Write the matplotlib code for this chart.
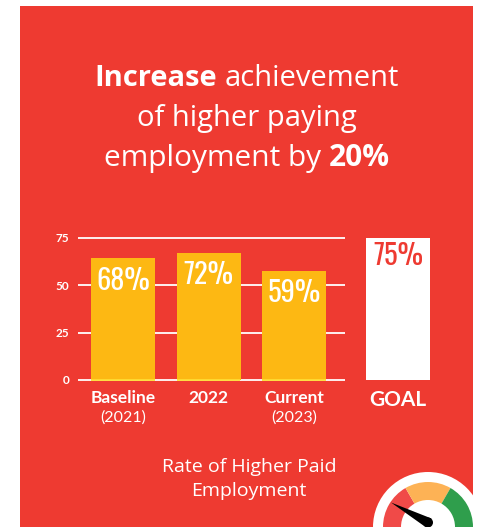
import numpy as np
import matplotlib
matplotlib.use("Agg")
import matplotlib.pyplot as plt
from matplotlib.patches import Rectangle, Wedge, Polygon, Circle

categories = ["Baseline", "2022", "Current"]
sub_labels = ["(2021)", "", "(2023)"]
bar_values = [64, 67, 57.5]
bar_labels = ["68%", "72%", "59%"]
goal_value = 75
goal_label = "75%"
yticks = [0, 25, 50, 75]

red = "#EE3A31"
yellow = "#FDB813"
W, H = 478, 527

plt.rcParams["font.family"] = ["Open Sans", "DejaVu Sans"]

fig = plt.figure(figsize=(W / 100, H / 100), dpi=100, facecolor="white")

# page overlay in pixel coords, y flipped by hand
bg = fig.add_axes([0, 0, 1, 1], zorder=0)
bg.set_xlim(0, W)
bg.set_ylim(H, 0)
bg.axis("off")
bg.add_patch(Rectangle((20, 6), 453, H - 6, color=red, lw=0))


def mixed_line(y, parts, size=21):
    # centred line made of regular and bold pieces
    r = fig.canvas.get_renderer()
    items = [bg.text(0, y, s, color="white", fontsize=size, fontweight=w, va="baseline", ha="left")
             for s, w in parts]
    widths = [t.get_window_extent(r).width for t in items]
    space = size * 100 / 72 * 0.26
    total = sum(widths) + space * (len(items) - 1)
    x = 247 - total / 2
    for t, wd in zip(items, widths):
        t.set_x(x)
        x += wd + space


mixed_line(86, [("Increase", "bold"), ("achievement", "normal")])
mixed_line(126, [("of higher paying", "normal")])
mixed_line(166, [("employment by", "normal"), ("20%", "bold")], size=21.5)

# bar chart, axes spans 0..75 over y pixels 380..237.5
left, right, bottom, top = 77.5, 440, 380, 237.5
ax = fig.add_axes([left / W, 1 - bottom / H, (right - left) / W, (bottom - top) / H], zorder=1)
ax.patch.set_alpha(0)

step = 85.5
width = 64
x0 = 123 - left
xs = x0 + step * np.arange(len(categories))
goal_x = 398 - left
ax.set_xlim(0, right - left)
ax.set_ylim(0, 75)

ax.hlines(yticks, 0, 345 - left, color="white", lw=1.3, zorder=1, clip_on=False)
ax.bar(xs, bar_values, width=width, color=yellow, zorder=2, clip_on=False)
ax.bar([goal_x], [goal_value], width=width, color="white", zorder=2, clip_on=False)
ax.hlines(np.zeros(len(xs)), xs - width / 2, xs + width / 2, color="#FFDD33", lw=1.3, zorder=3, clip_on=False)

narrow = ["Oswald", "Saira ExtraCondensed", "Roboto", "DejaVu Sans"]
for x, v, s in zip(xs, bar_values, bar_labels):
    ax.annotate(s, (x, v), xytext=(0, -6), textcoords="offset points", ha="center", va="top",
                color="white", fontsize=20.5, family=narrow, fontweight="bold")
ax.annotate(goal_label, (goal_x, goal_value), xytext=(0, -3), textcoords="offset points", ha="center",
            va="top", color=red, fontsize=20.5, family=narrow, fontweight="bold")

ax.set_xticks([])
ax.set_yticks(yticks)
ax.set_yticklabels([str(t) for t in yticks], family="Lato", fontweight="bold", fontsize=8.5, color="white")
ax.tick_params(axis="y", length=0, pad=6)
for s in ax.spines.values():
    s.set_visible(False)

for x, c, sub in zip(xs, categories, sub_labels):
    ax.annotate(c, (x, 0), xytext=(0, -7), textcoords="offset points", ha="center", va="top",
                color="white", fontsize=12.5, family="Lato", fontweight="bold")
    if sub:
        ax.annotate(sub, (x, 0), xytext=(0, -22), textcoords="offset points", ha="center", va="top",
                    color="white", fontsize=11.5, family="Lato")
ax.annotate("GOAL", (goal_x, 0), xytext=(0, -7), textcoords="offset points", ha="center", va="top",
            color="white", fontsize=15, family="Lato", fontweight="bold")

bg.text(249, 472, "Rate of Higher Paid", color="white", fontsize=14, ha="center", va="baseline")
bg.text(249, 496, "Employment", color="white", fontsize=14, ha="center", va="baseline")

# gauge, clipped by the bottom edge; y axis is flipped so angles are negated
cx, cy = 428, 527
bg.add_patch(Circle((cx, cy), 55, color="white", lw=0))
bg.add_patch(Wedge((cx, cy), 45, -180, -120, width=18, color="#F04A48", lw=0))
bg.add_patch(Wedge((cx, cy), 45, -120, -60, width=18, color="#FDB255", lw=0))
bg.add_patch(Wedge((cx, cy), 45, -60, 0, width=18, color="#2F9E4C", lw=0))
bg.add_patch(Polygon([(391, 502.5), (425.5, 527), (431.5, 518.5)], color="black", lw=0))
bg.add_patch(Circle((428, 522.5), 5, color="black", lw=0))

fig.savefig("out.png", dpi=100, facecolor="white")
